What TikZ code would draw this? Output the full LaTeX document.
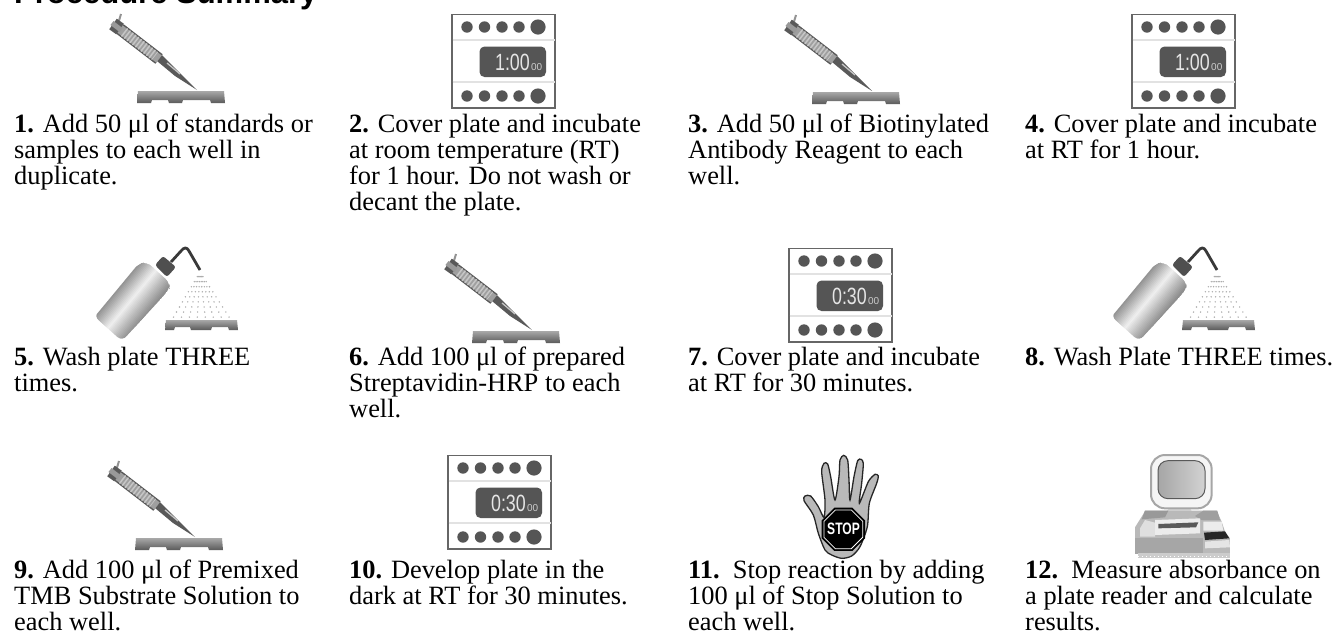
\documentclass[tikz,border=0pt]{standalone}
\usepackage{fontspec}
\setmainfont{Liberation Serif}
\newfontfamily\hv{Liberation Sans}
\usetikzlibrary{calc}
\definecolor{darkdot}{HTML}{555555}
\definecolor{sepline}{HTML}{E2E2E2}
\definecolor{plateDark}{HTML}{5A5A5A}
\definecolor{plateLight}{HTML}{A8A8A8}
\tikzset{
  x=1pt,y=-1pt,
  stepText/.style={anchor=base west,inner sep=0pt},
  titleText/.style={anchor=base west,inner sep=0pt,font=\hv\bfseries\fontsize{31}{31}\selectfont},
  timeText/.style={anchor=base east,inner sep=0pt,xscale=.76,text=white!90!black,font=\hv\fontsize{23.5}{24}\selectfont},
  timeSmall/.style={anchor=base east,inner sep=0pt,text=white!80!black,font=\hv\fontsize{10}{10}\selectfont},
}
\newcommand{\steptxt}[1]{\parbox[t]{330pt}{\fontsize{26.4}{26.3}\selectfont\raggedright #1}}
% x1 x2 ytop ybottom midfoot-left midfoot-right footwidth
\newcommand{\plate}[7]{%
  \shade[top color=plateLight,bottom color=plateDark]
    (#1,#3) -- (#2,#3) -- (#2+1,#4) -- (#2-#7,#4) -- (#2-#7-1,#4-3)
    -- (#6+1,#4-3) -- (#6,#4) -- (#5,#4) -- (#5-1,#4-3)
    -- (#1+#7+1,#4-3) -- (#1+#7,#4) -- (#1-1,#4) -- cycle;
}
\newcommand{\pipette}[2]{%
\begin{scope}[shift={(#1,#2)}]
  \draw[line width=2pt,gray!85] (121,14) -- (118,24);
  \fill[gray!70!black] (157,61) -- (162,55) -- (178,71) -- (197,90) -- (175,76) -- cycle;
  \draw[line width=1.3pt,gray!45] (167,63) -- (180,74);
  \draw[line width=12pt,gray!70!black] (120,29) -- (159,59);
  \draw[line width=9pt,gray!75] (120,29) -- (159,59);
  \draw[line width=10pt,gray!45,dash pattern=on 1.5pt off 2pt] (124,32) -- (155,56);
  \draw[line width=13pt,gray!70!black] (113,24) -- (120,29);
  \draw[line width=5pt,gray!80] (112,23) -- (121,30);
  \plate{138}{224}{91}{103}{169}{182}{13}
\end{scope}}
\newcommand{\timer}[5]{%
\begin{scope}[shift={(#1,#2)}]
  \draw[line width=1.5pt,gray!80!black,fill=white] (452,14.5) rectangle (555,108);
  \draw[line width=1.6pt,sepline] (452.5,40) -- (554.5,40) (452.5,82) -- (554.5,82);
  \foreach \cx in {467,484.5,502,519}{
    \fill[darkdot] (\cx,27) circle (5.7);
    \fill[darkdot] (\cx,96) circle (5.7);
  }
  \fill[darkdot] (538,27) circle (7.6);
  \fill[darkdot] (538,96) circle (7.6);
  \fill[darkdot,rounded corners=5pt] (479.5,46.5) rectangle (546,77);
  \node[timeText] (clock#3) at (530,70) {#4};
  \node[timeSmall] (clockb#3) at (542.5,70) {#5};
\end{scope}}
\newcommand{\bottle}[2]{%
\begin{scope}[shift={(#1,#2)}]
  \begin{scope}
    \clip[rounded corners=6pt] (94,316) -- (138,264) -- (147,262) -- (170,283) -- (169,290) -- (122,341) -- cycle;
    \foreach \k in {0,...,26}{
      \pgfmathsetmacro{\t}{\k/26}
      \pgfmathsetmacro{\shadeval}{\t<.45 ? 42-36*(\t/.45) : 6+38*((\t-.45)/.55)}
      \draw[line width=2.2pt,black!\shadeval]
        ($(90,324)!\t!(118,349)$) -- ($(148,254)!\t!(176,279)$);
    }
  \end{scope}
  \fill[gray!62!black,rounded corners=2.5pt] (155,265) -- (163,256) -- (176,267) -- (167,277) -- cycle;
  \draw[line width=2.8pt,gray!45!black,line join=round]
    (171,262) -- (181,251) .. controls (184,247) and (187,247) .. (189,251) -- (200,270);
  \foreach \k in {0,...,7}{
    \pgfmathsetmacro{\ex}{173+8.1*\k}
    \foreach \t in {.1,.21,...,1.02}{
      \fill[gray!65] ($(200,272)!\t!(\ex,318)$) circle (.8);
    }
  }
  \plate{166}{237}{320}{330}{191}{211}{8}
\end{scope}}
\begin{document}
\begin{tikzpicture}
\useasboundingbox (0,0) rectangle (1336,633);
\node[titleText] (title) at (14,3) {Procedure Summary};

\pipette{0}{0}
\timer{0}{0}{a}{1:00}{00}
\pipette{675}{1}
\timer{680}{0}{b}{1:00}{00}
\bottle{0}{0}
\pipette{335}{240}
\timer{337}{234}{c}{0:30}{00}
\bottle{1017}{0}
\pipette{-2}{447}
\timer{-4}{441}{d}{0:30}{00}

% hand
\begin{scope}[shift={(780,440)},x=.3333pt,y=-.3333pt]
  \draw[fill=gray!55,draw=gray!30!black,line width=1.3pt]
    plot[smooth cycle,tension=.45] coordinates {
    (135,330) (115,280) (100,225) (72,182) (75,168) (92,168) (115,200) (132,232)
    (135,180) (125,95) (132,70) (143,72) (152,110) (165,180)
    (177,110) (180,60) (191,46) (203,60) (207,120) (210,180)
    (222,110) (233,62) (243,58) (250,70) (245,130) (238,190)
    (265,125) (285,103) (295,108) (290,130) (268,190) (262,260) (240,320) (215,348) (185,355) (155,345)};
  \fill[black] (163,203) -- (217,203) -- (255,241) -- (255,295) -- (217,333) -- (163,333) -- (125,295) -- (125,241) -- cycle;
  \draw[white,line width=.8pt] (166,210) -- (214,210) -- (248,244) -- (248,292) -- (214,326) -- (166,326) -- (132,292) -- (132,244) -- cycle;
\end{scope}
\node[inner sep=0pt,text=white,font=\hv\bfseries\fontsize{16.5}{16.5}\selectfont,xscale=.73] (stop) at (843.5,529) {STOP};

% computer
\begin{scope}[shift={(1090,440)},x=.3333pt,y=-.3333pt]
  \fill[gray!30] (240,203) -- (300,203) -- (310,225) -- (215,228) -- cycle;
  \draw[white,line width=1pt] (240,215) .. controls (265,225) and (285,225) .. (300,215);
  \fill[gray!55] (160,222) -- (165,212) -- (380,212) -- (395,245) -- (405,275) -- (420,295) -- (420,342) -- (135,342) -- (135,262) -- cycle;
  \fill[gray!80] (165,212) -- (235,212) -- (225,232) -- (155,238) -- cycle;
  \fill[gray!75] (315,228) -- (340,212) -- (382,212) -- (390,240) -- (335,240) -- cycle;
  \fill[gray!25] (150,265) -- (150,290) -- (195,290) -- (195,248) -- (165,240) -- cycle;
  \fill[gray!15] (195,240) -- (330,235) -- (330,280) -- (195,285) -- cycle;
  \fill[gray!70!black] (205,252) -- (325,247) -- (318,262) -- (205,265) -- cycle;
  \fill[gray!15] (340,245) -- (395,245) -- (400,272) -- (340,272) -- cycle;
  \fill[gray!70] (135,295) rectangle (340,342);
  \fill[black!85] (342,278) -- (405,274) -- (418,295) -- (345,300) -- cycle;
  \fill[gray!20] (345,305) -- (418,300) -- (420,322) -- (345,325) -- cycle;
  \fill[gray!40] (145,340) rectangle (420,355);
  \draw[white,line width=.5pt,dash pattern=on 1pt off 3pt] (145,348) -- (420,348);
  \draw[gray!70,line width=2pt,fill=gray!8,rounded corners=14pt] (183,45) rectangle (365,205);
  \shade[left color=gray!70,right color=gray!35,draw=gray!70!black,line width=1pt,rounded corners=10pt] (204,62) rectangle (345,176);
\end{scope}

\node[stepText] (s1) at (14,132) {\steptxt{\textbf{1.} Add 50 μl of standards or\\samples to each well in\\duplicate.}};
\node[stepText] (s2) at (349,132) {\steptxt{\textbf{2.} Cover plate and incubate\\at room temperature (RT)\\for 1 hour. Do not wash or\\decant the plate.}};
\node[stepText] (s3) at (688,132) {\steptxt{\textbf{3.} Add 50 μl of Biotinylated\\Antibody Reagent to each\\well.}};
\node[stepText] (s4) at (1025,132) {\steptxt{\textbf{4.} Cover plate and incubate\\at RT for 1 hour.}};
\node[stepText] (s5) at (14,365) {\steptxt{\textbf{5.} Wash plate THREE\\times.}};
\node[stepText] (s6) at (349,365) {\steptxt{\textbf{6.} Add 100 μl of prepared\\Streptavidin-HRP to each\\well.}};
\node[stepText] (s7) at (688,365) {\steptxt{\textbf{7.} Cover plate and incubate\\at RT for 30 minutes.}};
\node[stepText] (s8) at (1025,365) {\steptxt{\textbf{8.} Wash Plate THREE times.}};
\node[stepText] (s9) at (14,578) {\steptxt{\textbf{9.} Add 100 μl of Premixed\\TMB Substrate Solution to\\each well.}};
\node[stepText] (s10) at (349,578) {\steptxt{\textbf{10.} Develop plate in the\\dark at RT for 30 minutes.}};
\node[stepText] (s11) at (688,578) {\steptxt{\textbf{11.}\ \ Stop reaction by adding\\100 μl of Stop Solution to\\each well.}};
\node[stepText] (s12) at (1025,578) {\steptxt{\textbf{12.}\ \ Measure absorbance on\\a plate reader and calculate\\results.}};
\end{tikzpicture}
\end{document}
